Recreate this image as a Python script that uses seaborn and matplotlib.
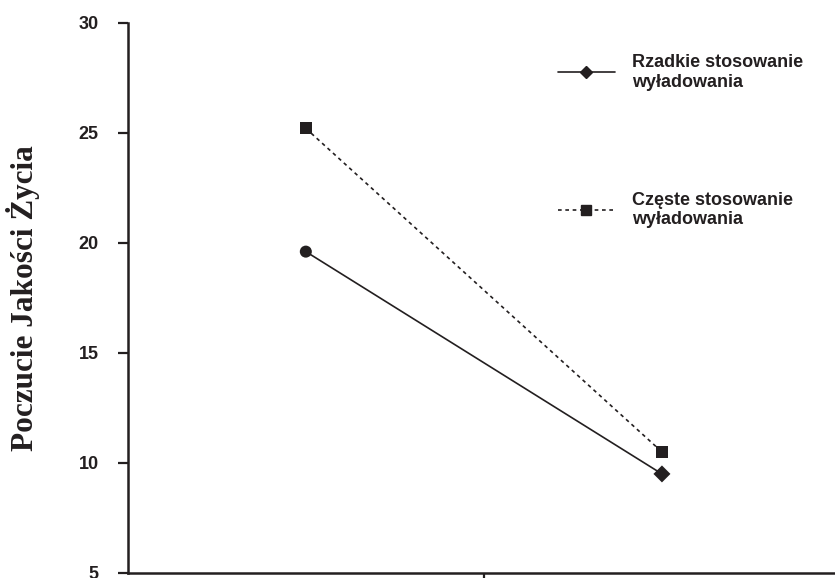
import matplotlib
matplotlib.use("Agg")
import matplotlib.pyplot as plt
import seaborn as sns
import pandas as pd
from matplotlib.lines import Line2D

# Values
pomiar = [0.5, 1.5]
rzadkie = [19.6, 9.5]
czeste = [25.2, 10.5]
grupy = ["Rzadkie stosowanie\nwyładowania", "Częste stosowanie\nwyładowania"]
znaczniki_rzadkie = ["o", "D"]
znaczniki_czeste = ["s", "s"]
y_ticks = [5, 10, 15, 20, 25, 30]

INK = "#231f20"

df = pd.DataFrame({
    "x": pomiar + pomiar,
    "y": rzadkie + czeste,
    "grupa": [grupy[0]] * len(pomiar) + [grupy[1]] * len(pomiar),
    "znacznik": znaczniki_rzadkie + znaczniki_czeste,
})

sns.set_style("ticks")
plt.rcParams["font.family"] = ["Liberation Sans", "DejaVu Sans"]

fig = plt.figure(figsize=(8.35, 5.78), dpi=100)
ax = fig.add_axes([0.153, 0.0087, 0.853, 0.952])

# lines
sns.lineplot(data=df, x="x", y="y", hue="grupa", style="grupa",
             palette=[INK, INK], dashes=["", (2.2, 2.2)], linewidth=1.2,
             legend=False, ax=ax)
# markers
sns.scatterplot(data=df, x="x", y="y", style="znacznik",
                markers={"o": "o", "D": "D", "s": "s"},
                color=INK, s=75, linewidth=0, legend=False, ax=ax, zorder=3)

ax.set_xlim(0, 2)
ax.set_ylim(5, 30)
ax.set_yticks(y_ticks)
ax.set_yticklabels([str(t) for t in y_ticks], fontweight="bold", fontsize=13, color=INK)
ax.set_xticks([1])
ax.set_xticklabels([""])
ax.set_xlabel("")
ax.set_ylabel("Poczucie Jakości Życia", family=["Liberation Serif", "DejaVu Serif"],
              fontweight="bold", fontsize=22.5, color=INK)
ax.yaxis.set_label_coords(-0.123, 0.5)

ax.tick_params(axis="y", length=7, width=1.6, pad=14, color=INK)
ax.tick_params(axis="x", length=7, width=1.6, color=INK)
for side in ["top", "right"]:
    ax.spines[side].set_visible(False)
for side in ["left", "bottom"]:
    ax.spines[side].set_linewidth(1.8)
    ax.spines[side].set_color(INK)

handles = [
    Line2D([], [], color=INK, lw=1.2, marker="D", ms=6.5, ls="-"),
    Line2D([], [], color=INK, lw=1.2, marker="s", ms=7.5, ls=(0, (2.2, 2.2))),
]
leg = ax.legend(handles, grupy, loc="upper left", bbox_to_anchor=(558 / 835, 1 - 54 / 578),
                bbox_transform=fig.transFigure, frameon=False, borderpad=0, borderaxespad=0,
                handlelength=3.15, handletextpad=0.95, labelspacing=5.6,
                prop={"weight": "bold", "size": 13})
for t in leg.get_texts():
    t.set_color(INK)

fig.savefig("out.png", dpi=100)
